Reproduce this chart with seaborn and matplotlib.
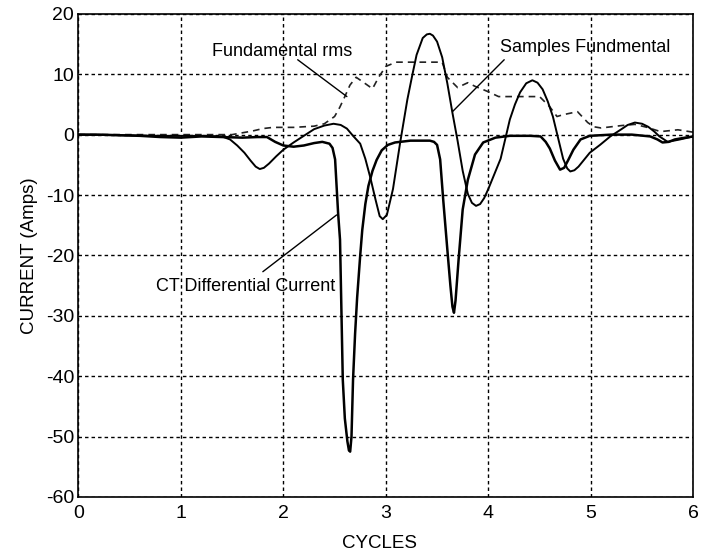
import matplotlib
matplotlib.use("Agg")
import matplotlib.pyplot as plt
import pandas as pd
import seaborn as sns

# CT differential current (cycles, amps)
diff_x = [0.0, 0.2, 0.4, 0.6, 0.8, 1.0, 1.2, 1.4, 1.6, 1.75, 1.84, 1.92, 2.0, 2.1, 2.2, 2.3, 2.38, 2.45,
          2.48, 2.505, 2.534, 2.553, 2.58, 2.60, 2.625, 2.64, 2.652, 2.665, 2.68, 2.70, 2.72, 2.75, 2.77,
          2.80, 2.83, 2.87, 2.91, 2.96, 3.02, 3.09, 3.24, 3.43, 3.47, 3.50, 3.53, 3.56, 3.60, 3.63,
          3.65, 3.665, 3.68, 3.71, 3.75, 3.80, 3.87, 3.95, 4.07, 4.21, 4.41, 4.51, 4.56, 4.60,
          4.65, 4.70, 4.74, 4.78, 4.83, 4.90, 4.99, 5.2, 5.4, 5.58, 5.65, 5.70, 5.76, 5.82, 5.92, 6.0]
diff_y = [0.0, 0.0, -0.1, -0.2, -0.4, -0.5, -0.3, -0.4, -0.5, -0.4, -0.4, -1.2, -1.8, -2.0, -1.8, -1.4, -1.2, -1.5,
          -2.2, -4.1, -12.9, -17.4, -40.6, -47.0, -50.8, -52.3, -52.5, -50.0, -40.6, -33.0, -27.0, -20.0, -15.8,
          -11.5, -8.5, -6.0, -4.2, -2.6, -1.7, -1.3, -1.0, -1.0, -1.2, -1.7, -4.1, -10.8, -19.0, -25.0,
          -28.5, -29.5, -27.5, -20.7, -12.4, -7.5, -3.3, -1.3, -0.5, -0.2, -0.2, -0.3, -1.2, -2.3,
          -4.3, -5.8, -5.5, -4.2, -2.5, -0.8, -0.2, 0.0, 0.0, -0.3, -0.8, -1.3, -1.2, -0.8, -0.5, -0.3]

# Fundamental component samples
fund_x = [0.0, 0.4, 0.8, 1.2, 1.40, 1.48, 1.55, 1.62, 1.68, 1.73, 1.77, 1.81, 1.86, 1.93, 2.00, 2.10,
          2.20, 2.30, 2.40, 2.49, 2.56, 2.62, 2.68, 2.75, 2.80, 2.85, 2.90, 2.94, 2.97, 3.01, 3.07,
          3.14, 3.21, 3.26, 3.30, 3.36, 3.40, 3.43, 3.46, 3.50, 3.55, 3.60, 3.65, 3.70, 3.75, 3.80,
          3.84, 3.88, 3.92, 3.96, 4.00, 4.06, 4.12, 4.21, 4.26, 4.31, 4.37, 4.43, 4.48, 4.53, 4.58,
          4.63, 4.68, 4.73, 4.77, 4.80, 4.84, 4.88, 4.99, 5.09, 5.19, 5.29, 5.36, 5.43, 5.50, 5.56,
          5.62, 5.67, 5.75, 5.87, 6.0]
fund_y = [0.0, -0.1, -0.2, -0.2, -0.3, -0.8, -1.8, -3.0, -4.3, -5.3, -5.7, -5.5, -4.8, -3.6, -2.5, -1.3,
          -0.2, 0.9, 1.5, 1.8, 1.6, 1.0, -0.2, -1.5, -4.0, -7.2, -10.8, -13.5, -14.0, -13.3, -9.0,
          -1.3, 5.8, 10.0, 13.2, 16.0, 16.6, 16.7, 16.4, 15.4, 12.8, 8.5, 3.6, -1.0, -6.0, -9.8,
          -11.3, -11.8, -11.5, -10.5, -9.0, -6.5, -4.0, 2.5, 5.0, 7.0, 8.5, 9.0, 8.6, 7.5, 5.5,
          3.0, -0.5, -4.0, -5.6, -6.1, -5.9, -5.3, -3.0, -1.7, -0.3, 0.8, 1.6, 2.0, 1.8, 1.3,
          0.5, -0.3, -1.2, -0.8, -0.3]

# Fundamental rms estimate
rms_x = [0.0, 1.5, 1.6, 1.7, 1.8, 1.9, 2.0, 2.1, 2.2, 2.3, 2.4, 2.5, 2.55, 2.6, 2.65, 2.71,
         2.77, 2.87, 2.93, 3.0, 3.1, 3.3, 3.55, 3.6, 3.7, 3.8, 3.87, 4.0, 4.1, 4.3, 4.5,
         4.6, 4.67, 4.73, 4.87, 4.97, 5.03, 5.1, 5.3, 5.43, 5.55, 5.68, 5.85, 6.0]
rms_y = [0.0, 0.0, 0.3, 0.6, 1.0, 1.2, 1.2, 1.2, 1.3, 1.4, 1.8, 3.0, 4.5, 6.3, 8.2, 9.5,
         8.8, 7.6, 9.5, 11.3, 12.0, 12.0, 12.0, 9.5, 7.8, 8.6, 8.0, 7.1, 6.3, 6.3, 6.3,
         4.6, 3.0, 3.3, 3.8, 2.0, 1.3, 1.1, 1.5, 1.7, 1.2, 0.5, 0.8, 0.4]

x_ticks = [0, 1, 2, 3, 4, 5, 6]
y_ticks = [-60, -50, -40, -30, -20, -10, 0, 10, 20]

sns.set_theme(style="white")
plt.rcParams["font.family"] = ["Liberation Sans", "DejaVu Sans"]

fig = plt.figure(figsize=(7.06, 5.54), dpi=100)
ax = fig.add_axes([0.111, 0.103, 0.871, 0.872])

df_diff = pd.DataFrame({"t": diff_x, "i": diff_y})
df_fund = pd.DataFrame({"t": fund_x, "i": fund_y})
df_rms = pd.DataFrame({"t": rms_x, "i": rms_y})

sns.lineplot(data=df_rms, x="t", y="i", ax=ax, color="#222222", lw=1.2,
             estimator=None, sort=False, linestyle=(0, (4, 3)))
sns.lineplot(data=df_fund, x="t", y="i", ax=ax, color="black", lw=1.4,
             estimator=None, sort=False)
sns.lineplot(data=df_diff, x="t", y="i", ax=ax, color="black", lw=1.8,
             estimator=None, sort=False)
for ln in ax.get_lines():
    ln.set_solid_joinstyle("round")

ax.set_xlim(0, 6)
ax.set_ylim(-60, 20)
ax.set_xticks(x_ticks)
ax.set_yticks(y_ticks)
ax.set_xticklabels([str(v) for v in x_ticks])
ax.set_yticklabels([str(v) for v in y_ticks])
ax.tick_params(axis="both", labelsize=14, colors="black", direction="in", length=3, width=1)
ax.tick_params(axis="x", pad=6)
ax.tick_params(axis="y", pad=3)

ax.grid(True, color="black", linestyle=(0, (2.5, 2.2)), linewidth=1.0)
ax.set_axisbelow(True)
for s in ax.spines.values():
    s.set_color("black")
    s.set_linewidth(1.2)

ax.set_xlabel("CYCLES", fontsize=13.5, color="black")
ax.set_ylabel("CURRENT (Amps)", fontsize=13.5, color="black")
ax.xaxis.set_label_coords(0.489, -0.078)
ax.yaxis.set_label_coords(-0.066, 0.5)

line_kw = dict(arrowstyle="-", color="black", lw=1.0, shrinkA=0, shrinkB=0)
ax.annotate("", xy=(2.62, 6.3), xytext=(2.14, 12.4), arrowprops=line_kw)
ax.text(1.99, 13.8, "Fundamental rms", fontsize=13, ha="center", va="center", color="black")
ax.annotate("", xy=(3.65, 3.8), xytext=(4.155, 12.4), arrowprops=line_kw)
ax.text(4.95, 14.4, "Samples Fundmental", fontsize=13, ha="center", va="center", color="black")
ax.annotate("", xy=(2.52, -13.3), xytext=(1.80, -22.7), arrowprops=line_kw)
ax.text(1.63, -25.2, "CT Differential Current", fontsize=13, ha="center", va="center", color="black")

fig.savefig("out.png", dpi=100, facecolor="white")
